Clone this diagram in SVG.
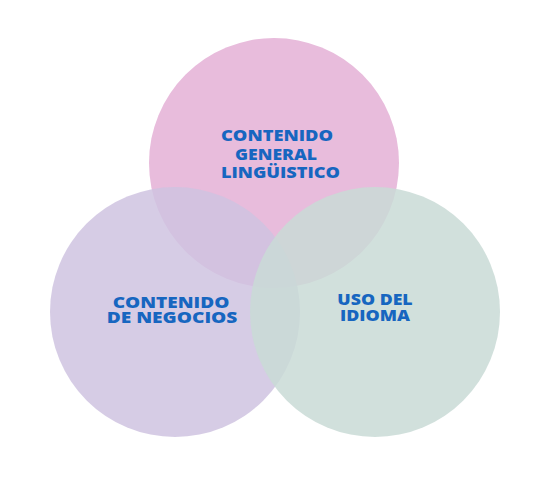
<svg xmlns="http://www.w3.org/2000/svg" width="546" height="503" viewBox="0 0 546 503">
<style>
.lbl{font-family:"Open Sans","Noto Sans","Liberation Sans",sans-serif;font-weight:800;font-size:16px;fill:#1766c0;text-anchor:middle}
</style>
<rect width="546" height="503" fill="#ffffff"/>
<g id="node-linguistico">
<circle cx="274" cy="163" r="125" fill="#e8bcdc"/>
</g>
<g id="node-negocios">
<circle cx="175" cy="312" r="125" fill="#cfc3e0" fill-opacity="0.85"/>
</g>
<g id="node-idioma">
<circle cx="375" cy="312" r="125" fill="#c9dbd6" fill-opacity="0.85"/>
</g>
<g id="connectors"></g>
<g id="labels">
<text class="lbl" x="277" y="141" textLength="112" lengthAdjust="spacingAndGlyphs">CONTENIDO</text>
<text class="lbl" x="276" y="160" textLength="82" lengthAdjust="spacingAndGlyphs">GENERAL</text>
<text class="lbl" x="280.5" y="178" textLength="119" lengthAdjust="spacingAndGlyphs">LINGÜISTICO</text>
<text class="lbl" x="171" y="308" textLength="116.6" lengthAdjust="spacingAndGlyphs">CONTENIDO</text>
<text class="lbl" x="172" y="322.7" textLength="130.7" lengthAdjust="spacingAndGlyphs">DE NEGOCIOS</text>
<text class="lbl" x="375" y="304.7" textLength="75.3" lengthAdjust="spacingAndGlyphs">USO DEL</text>
<text class="lbl" x="375" y="321.3" textLength="70" lengthAdjust="spacingAndGlyphs">IDIOMA</text>
</g>
</svg>
